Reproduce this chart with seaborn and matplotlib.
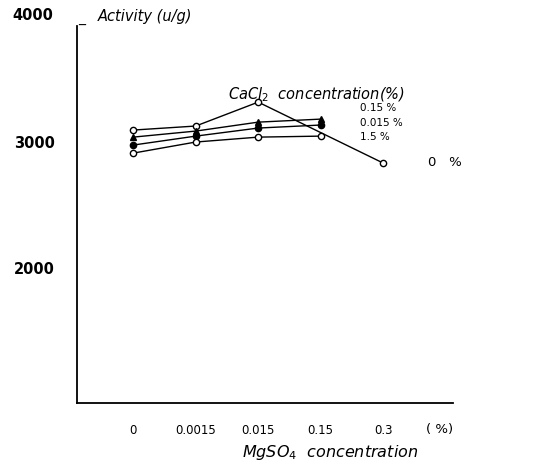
import matplotlib
matplotlib.use("Agg")
import matplotlib.pyplot as plt
import matplotlib.transforms as mtransforms
import seaborn as sns
import pandas as pd

sns.set_theme(style="white")
plt.rcParams['font.family'] = ['DejaVu Sans']
plt.rcParams['text.color'] = 'black'

# MgSO4 concentration categories (positions 0..4)
mgso4_labels = ["0", "0.0015", "0.015", "0.15", "0.3"]
mgso4_pos = [0, 1, 2, 3, 4]

# Activity (u/g) per CaCl2 concentration series
cacl2_0_pos = [0, 1, 2, 4]
cacl2_0 = [3143, 3175, 3365, 2881]
cacl2_015_pos = [0, 1, 2, 3]
cacl2_015 = [3087, 3135, 3206, 3230]
cacl2_0015_pos = [0, 1, 2, 3]
cacl2_0015 = [3024, 3095, 3159, 3183]
cacl2_15_pos = [0, 1, 2, 3]
cacl2_15 = [2960, 3048, 3087, 3095]

series_names = ["0 %", "0.15 %", "0.015 %", "1.5 %"]

rows = []
for name, xs, ys in [(series_names[0], cacl2_0_pos, cacl2_0),
                     (series_names[1], cacl2_015_pos, cacl2_015),
                     (series_names[2], cacl2_0015_pos, cacl2_0015),
                     (series_names[3], cacl2_15_pos, cacl2_15)]:
    for x, y in zip(xs, ys):
        rows.append({"mg": x, "activity": y, "series": name})
df = pd.DataFrame(rows)

fig = plt.figure(figsize=(5.46, 4.67), dpi=100)
ax = fig.add_axes([0.141, 0.137, 0.689, 0.807])

styles = {
    "0 %": dict(marker="o", mfc="white"),
    "0.15 %": dict(marker="^", mfc="black"),
    "0.015 %": dict(marker="o", mfc="black"),
    "1.5 %": dict(marker="o", mfc="white"),
}
for name in series_names:
    sub = df[df["series"] == name]
    sns.lineplot(data=sub, x="mg", y="activity", ax=ax, color="black",
                 linewidth=1.0, marker=styles[name]["marker"], markersize=4.5,
                 markerfacecolor=styles[name]["mfc"], markeredgecolor="black",
                 markeredgewidth=1.0, legend=False, sort=False)

ax.set_xlim(-0.9, 5.12)
ax.set_ylim(976, 3968)
ax.set_xticks(mgso4_pos)
ax.set_xticklabels(mgso4_labels, fontsize=8.5)
ax.set_yticks([2000, 3000])
ax.set_yticklabels(["2000", "3000"], fontsize=10.5, fontweight="bold")
ax.tick_params(axis="x", direction="in", length=3, width=1, pad=15, colors="black")
ax.tick_params(axis="y", direction="in", length=5, width=1.2, pad=16, colors="black")
offset = mtransforms.ScaledTranslation(0, 6 / 100, fig.dpi_scale_trans)
for lab in ax.get_yticklabels():
    lab.set_transform(lab.get_transform() + offset)
for s in ["top", "right"]:
    ax.spines[s].set_visible(False)
for s in ["left", "bottom"]:
    ax.spines[s].set_color("black")
    ax.spines[s].set_linewidth(1.3)
ax.set_xlabel("")
ax.set_ylabel("")

# top label and 4000
fig.text(12, 467 - 16, "4000", transform=None, fontsize=10.5, fontweight="bold",
         va="center", ha="left")
fig.text(78, 467 - 18, "_ ", transform=None, fontsize=10, va="center", ha="left")
fig.text(98, 467 - 16, "Activity (u/g)", transform=None, fontsize=10.5,
         style="italic", va="center", ha="left")

# x label
fig.text(330, 467 - 453, "MgSO$_4$  concentration", transform=None, fontsize=11.5,
         style="italic", va="center", ha="center")
fig.text(440, 467 - 430, "( %)", transform=None, fontsize=9.5, va="center", ha="center")

# series labels
fig.text(228, 467 - 95, "CaCl$_2$  concentration(%)", transform=None, fontsize=10.5,
         style="italic", va="center", ha="left")
fig.text(360, 467 - 108, "0.15 %", transform=None, fontsize=7.5, va="center", ha="left")
fig.text(360, 467 - 123, "0.015 %", transform=None, fontsize=7.5, va="center", ha="left")
fig.text(360, 467 - 137, "1.5 %", transform=None, fontsize=7.5, va="center", ha="left")
fig.text(428, 467 - 163, "0   %", transform=None, fontsize=9.5, va="center", ha="left")

fig.savefig("out.png", dpi=100, facecolor="white")
